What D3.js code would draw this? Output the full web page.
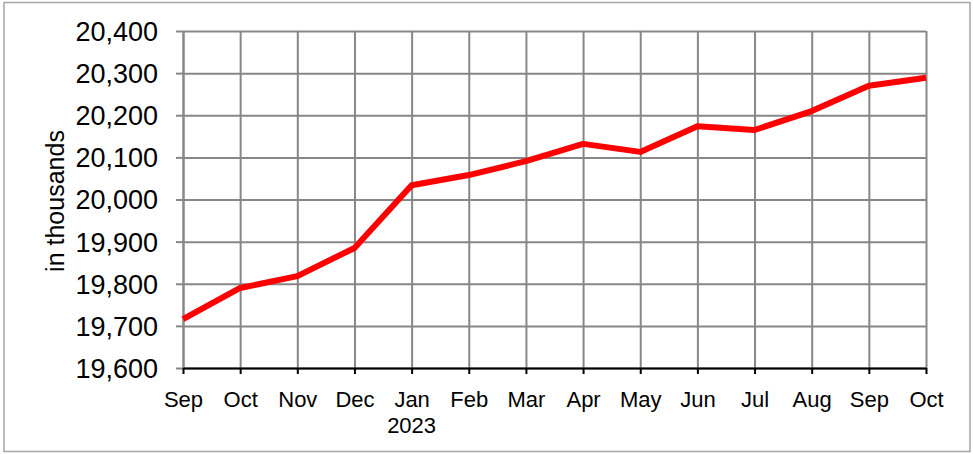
<!DOCTYPE html>
<html>
<head>
<meta charset="utf-8">
<script src="https://cdn.jsdelivr.net/npm/d3@7"></script>
<style>
  body { margin: 0; background: #fff; }
  text { font-family: "Liberation Sans", Arial, sans-serif; fill: #000; }
</style>
</head>
<body>
<div id="chart"></div>
<script>
var months = ["Sep", "Oct", "Nov", "Dec", "Jan", "Feb", "Mar", "Apr", "May", "Jun", "Jul", "Aug", "Sep", "Oct"];
var values = [19716, 19790, 19818, 19885, 20034, 20058, 20091, 20132, 20113, 20174, 20165, 20210, 20270, 20289];
var yTicks = [19600, 19700, 19800, 19900, 20000, 20100, 20200, 20300, 20400];
var yearLabel = "2023";
var yearIndex = 4;

var svgWidth = 973;
var svgHeight = 454;

var margin = { top: 31, right: 47, bottom: 86, left: 183 };
var width = svgWidth - margin.left - margin.right;
var height = svgHeight - margin.top - margin.bottom;

var svg = d3.select("#chart")
  .append("svg")
  .attr("width", svgWidth)
  .attr("height", svgHeight);

// outer frame
svg.append("rect")
  .attr("x", 4)
  .attr("y", 2.5)
  .attr("width", 966)
  .attr("height", 449)
  .attr("fill", "none")
  .attr("stroke", "#a6a6a6")
  .attr("stroke-width", 1.5);

var chartGroup = svg.append("g")
  .attr("transform", `translate(${margin.left}, ${margin.top})`);

var idx = months.map((d, i) => i);

var xScale = d3.scalePoint()
  .domain(idx)
  .range([0, width]);

var yScale = d3.scaleLinear()
  .domain([19600, 20400])
  .range([height, 0]);

// grid
chartGroup.append("g")
  .attr("class", "grid")
  .call(d3.axisLeft(yScale).tickValues(yTicks).tickSize(-width).tickFormat(""))
  .call(g => g.select(".domain").remove());

chartGroup.append("g")
  .attr("class", "grid")
  .attr("transform", `translate(0, ${height})`)
  .call(d3.axisBottom(xScale).tickSize(height).tickFormat(""))
  .call(g => g.select(".domain").remove())
  .call(g => g.selectAll("line").attr("transform", `translate(0, ${-height})`));

chartGroup.selectAll(".grid line")
  .attr("stroke", "#878787")
  .attr("stroke-width", 2);

// y axis
var leftAxis = d3.axisLeft(yScale)
  .tickValues(yTicks)
  .tickSize(7)
  .tickSizeOuter(0)
  .tickPadding(18)
  .tickFormat(d3.format(",d"));

chartGroup.append("g")
  .call(leftAxis)
  .call(g => g.select(".domain").attr("stroke", "#878787").attr("stroke-width", 2))
  .call(g => g.selectAll("line").attr("stroke", "#878787").attr("stroke-width", 2))
  .call(g => g.selectAll("text").style("font-size", "27px").attr("dy", "0.35em"));

// x axis
var bottomAxis = d3.axisBottom(xScale)
  .tickSize(6)
  .tickSizeOuter(0)
  .tickFormat(i => months[i]);

chartGroup.append("g")
  .attr("transform", `translate(0, ${height})`)
  .call(bottomAxis)
  .call(g => g.select(".domain").attr("stroke", "#000").attr("stroke-width", 2))
  .call(g => g.selectAll("line").attr("stroke", "#000").attr("stroke-width", 2))
  .call(g => g.selectAll("text").style("font-size", "22px").attr("y", 39).attr("dy", 0));

chartGroup.append("text")
  .attr("x", xScale(yearIndex))
  .attr("y", height + 65)
  .attr("text-anchor", "middle")
  .style("font-size", "22px")
  .text(yearLabel);

// y axis title
svg.append("text")
  .attr("transform", "rotate(-90)")
  .attr("x", -201)
  .attr("y", 64)
  .attr("text-anchor", "middle")
  .style("font-size", "25px")
  .text("in thousands");

// line
var line = d3.line()
  .x((d, i) => xScale(i))
  .y(d => yScale(d));

chartGroup.append("path")
  .datum(values)
  .attr("fill", "none")
  .attr("stroke", "#ff0000")
  .attr("stroke-width", 6)
  .attr("stroke-linejoin", "round")
  .attr("d", line);
</script>
</body>
</html>
